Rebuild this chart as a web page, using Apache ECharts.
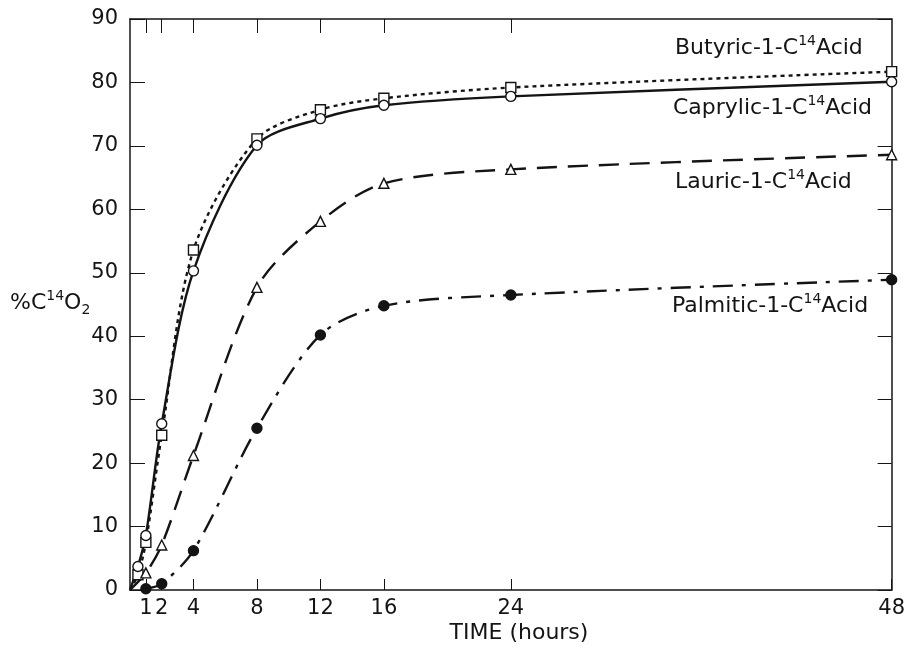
<!DOCTYPE html>
<html>
<head>
<meta charset="utf-8">
<script src="https://cdn.jsdelivr.net/npm/echarts@6/dist/echarts.min.js"></script>
<style>
html,body{margin:0;padding:0;background:#fff;}
#c{width:908px;height:652px;}
</style>
</head>
<body>
<div id="c"></div>
<script>
// ---- data ----
const xTicks = [1, 2, 4, 8, 12, 16, 24, 48];
const topTicks = [1, 2, 4, 8, 12, 16, 24];
const yTicks = [0, 10, 20, 30, 40, 50, 60, 70, 80, 90];

const butyricHours = [0, 0.5, 1, 2, 4, 8, 12, 16, 24, 48];
const butyricVals  = [0, 2.4, 7.5, 24.4, 53.6, 71.1, 75.7, 77.5, 79.2, 81.7];

const caprylicHours = [0, 0.5, 1, 2, 4, 8, 12, 16, 24, 48];
const caprylicVals  = [0, 3.7, 8.6, 26.2, 50.3, 70.1, 74.3, 76.4, 77.8, 80.1];

const lauricHours = [0, 1, 2, 4, 8, 12, 16, 24, 48];
const lauricVals  = [0, 2.7, 7.1, 21.2, 47.7, 58.1, 64.1, 66.3, 68.6];

const palmiticHours = [1, 2, 4, 8, 12, 16, 24, 48];
const palmiticVals  = [0.2, 1.0, 6.2, 25.5, 40.2, 44.8, 46.5, 48.9];

// ---- chart ----
const INK = '#141414';
const FONT = '"DejaVu Sans", sans-serif';

function pairs(hs, vs) {
  return hs.map((h, i) => (h === 0 ? { value: [h, vs[i]], symbol: 'none' } : [h, vs[i]]));
}

function mk(name, hs, vs, symbol, size, filled, lineType) {
  return {
    name: name,
    type: 'line',
    data: pairs(hs, vs),
    smooth: 0.3,
    clip: false,
    symbol: symbol,
    symbolSize: size,
    showAllSymbol: true,
    lineStyle: { color: INK, width: 2.4, type: lineType },
    itemStyle: { color: filled ? INK : '#fff', borderColor: INK, borderWidth: 1.4 },
    z: filled ? 3 : 4
  };
}

const chart = echarts.init(document.getElementById('c'), null, { renderer: 'canvas' });

const richText = (txt, x, y, size) => ({
  type: 'text',
  x: x,
  y: y,
  style: {
    text: txt,
    fill: INK,
    textVerticalAlign: 'middle',
    verticalAlign: 'middle',
    font: size + 'px ' + FONT,
    rich: {
      n: { fontSize: size, fontFamily: FONT, fill: INK, lineHeight: 28, verticalAlign: 'middle' },
      sup: { fontSize: 14, fontFamily: FONT, fill: INK, lineHeight: 14, verticalAlign: 'top' },
      sub: { fontSize: 14, fontFamily: FONT, fill: INK, lineHeight: 13, verticalAlign: 'bottom' }
    }
  }
});

chart.setOption({
  backgroundColor: '#fff',
  animation: false,
  grid: { left: 130, right: 15, top: 19, bottom: 62, containLabel: false },
  xAxis: [
    {
      type: 'value',
      min: 0,
      max: 48,
      position: 'bottom',
      axisLine: { show: true, lineStyle: { color: INK, width: 1.5 } },
      axisTick: { show: true, inside: true, length: 11, customValues: xTicks, lineStyle: { color: INK, width: 1 } },
      axisLabel: { show: true, customValues: xTicks, color: INK, fontSize: 21, fontFamily: FONT, margin: 8 },
      splitLine: { show: false }
    },
    {
      type: 'value',
      min: 0,
      max: 48,
      position: 'top',
      axisLine: { show: true, onZero: false, lineStyle: { color: INK, width: 1.5 } },
      axisTick: { show: true, inside: true, length: 14, customValues: topTicks, lineStyle: { color: INK, width: 1 } },
      axisLabel: { show: false },
      splitLine: { show: false }
    }
  ],
  yAxis: [
    {
      type: 'value',
      min: 0,
      max: 90,
      interval: 10,
      position: 'left',
      axisLine: { show: true, lineStyle: { color: INK, width: 1.5 } },
      axisTick: { show: true, inside: true, length: 15, lineStyle: { color: INK, width: 1 } },
      axisLabel: { show: true, color: INK, fontSize: 21, fontFamily: FONT, margin: 12 },
      splitLine: { show: false }
    },
    {
      type: 'value',
      min: 0,
      max: 90,
      interval: 10,
      position: 'right',
      axisLine: { show: true, onZero: false, lineStyle: { color: INK, width: 1.5 } },
      axisTick: { show: true, inside: true, length: 14, lineStyle: { color: INK, width: 1 } },
      axisLabel: { show: false },
      splitLine: { show: false }
    }
  ],
  series: [
    mk('Butyric-1-C14 Acid', butyricHours, butyricVals, 'rect', 10, false, [4, 4]),
    mk('Caprylic-1-C14 Acid', caprylicHours, caprylicVals, 'circle', 10, false, 'solid'),
    mk('Lauric-1-C14 Acid', lauricHours, lauricVals, 'triangle', 10, false, [20, 11]),
    mk('Palmitic-1-C14 Acid', palmiticHours, palmiticVals, 'circle', 10, true, [20, 9, 4, 9])
  ],
  graphic: [
    richText('{n|Butyric-1-C}{sup|14}{n|Acid}', 675, 48, 22),
    richText('{n|Caprylic-1-C}{sup|14}{n|Acid}', 673, 108, 22),
    richText('{n|Lauric-1-C}{sup|14}{n|Acid}', 675, 182, 22),
    richText('{n|Palmitic-1-C}{sup|14}{n|Acid}', 672, 306, 22),
    richText('{n|%C}{sup|14}{n|O}{sub|2}', 10, 303, 22),
    {
      type: 'text',
      x: 519,
      y: 633,
      style: { text: 'TIME (hours)', fill: INK, font: '22px ' + FONT, textAlign: 'center', textVerticalAlign: 'middle', align: 'center', verticalAlign: 'middle' }
    }
  ]
});
</script>
</body>
</html>
